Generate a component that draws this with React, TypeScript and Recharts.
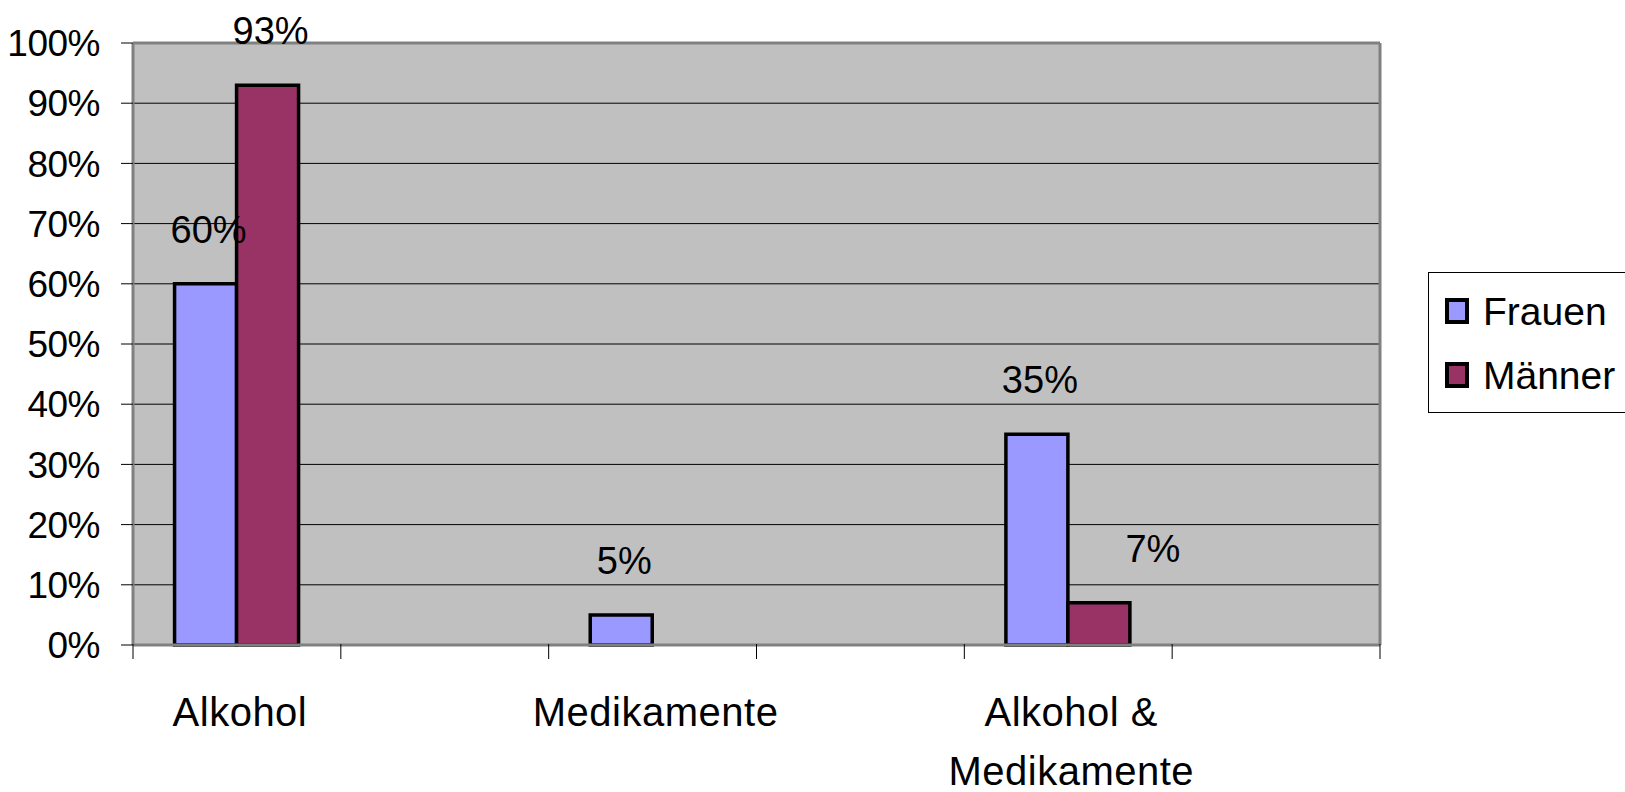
import React from 'react';
import {
  BarChart,
  Bar,
  XAxis,
  YAxis,
  CartesianGrid,
  Legend,
  LabelList,
} from 'recharts';

// Substance categories; blank entries keep the empty slots between groups.
const categories = ['Alkohol', '', 'Medikamente', '', 'Alkohol & Medikamente', ''];
// Share of women / men per category, in percent.
const frauen: (number | null)[] = [60, null, 5, null, 35, null];
const maenner: (number | null)[] = [93, null, null, null, 7, null];
const yTicks = [0, 10, 20, 30, 40, 50, 60, 70, 80, 90, 100];

const data = categories.map((name, i) => ({
  name,
  Frauen: frauen[i],
  'Männer': maenner[i],
}));

const FONT = '"Liberation Sans", Arial, Helvetica, sans-serif';
const BORDER = { stroke: '#808080', strokeWidth: 3 };

// Category label plus tick marks on the slot boundaries (Excel style).
const CategoryTick = (props: any) => {
  const { x, y, payload, index, visibleTicksCount, width } = props;
  const half =
    typeof payload?.offset === 'number' && payload.offset > 0
      ? payload.offset
      : width / visibleTicksCount / 2;
  const label: string = payload.value ?? '';
  const lines = label ? label.split(/(?<=&)\s+/) : [];
  const isLast = index === visibleTicksCount - 1;
  return (
    <g>
      <line x1={x - half} x2={x - half} y1={y - 1} y2={y + 14} stroke="#000" strokeWidth={1} />
      {isLast && (
        <line x1={x + half} x2={x + half} y1={y - 1} y2={y + 14} stroke="#000" strokeWidth={1} />
      )}
      {lines.map((line, i) => (
        <text
          key={i}
          x={x + 3}
          y={y + 67 + i * 59}
          textAnchor="middle"
          dominantBaseline="central"
          fontSize={40}
          fontFamily={FONT}
          letterSpacing={0.5}
          fill="#000"
        >
          {line}
        </text>
      ))}
    </g>
  );
};

const makeValueLabel = (series: (number | null)[], dxByCategory: Record<string, number>) => (props: any) => {
  const { x, y, width, value } = props;
  const idx = categories.indexOf(value);
  const v = idx >= 0 ? series[idx] : null;
  if (v == null || v === 0) return null;
  const dx = dxByCategory[value] ?? 3;
  return (
    <text
      x={x + width / 2 + dx}
      y={y - 54}
      textAnchor="middle"
      dominantBaseline="central"
      fontSize={38}
      fontFamily={FONT}
      fill="#000"
    >
      {`${v}%`}
    </text>
  );
};

const frauenLabel = makeValueLabel(frauen, {});
const maennerLabel = makeValueLabel(maenner, { 'Alkohol & Medikamente': 54 });

const LegendBox = (props: any) => {
  const { payload = [] } = props;
  return (
    <div
      style={{
        width: 220,
        height: 141,
        boxSizing: 'border-box',
        border: '1px solid #000',
        background: '#fff',
        paddingTop: 6,
        paddingLeft: 16,
        fontFamily: FONT,
      }}
    >
      {payload.map((item: any) => (
        <div
          key={item.value}
          style={{ display: 'flex', alignItems: 'center', height: 64 }}
        >
          <span
            style={{
              display: 'inline-block',
              width: 24,
              height: 26,
              boxSizing: 'border-box',
              border: '4px solid #000',
              background: item.color,
              marginRight: 14,
            }}
          />
          <span style={{ fontSize: 39, color: '#000', lineHeight: 1 }}>{item.value}</span>
        </div>
      ))}
    </div>
  );
};

export default function App() {
  return (
    <div
      style={{
        position: 'absolute',
        left: 0,
        top: 0,
        width: 1625,
        height: 792,
        overflow: 'hidden',
        background: '#fff',
      }}
    >
      <BarChart
        width={1625}
        height={792}
        data={data}
        margin={{ top: 42, right: 244, bottom: 146, left: 0 }}
        barCategoryGap="20%"
        barGap={0}
      >
        <CartesianGrid
          xAxisId="cat"
          vertical={false}
          stroke="#000"
          strokeWidth={1}
          fill="#c0c0c0"
          fillOpacity={1}
        />
        <XAxis
          xAxisId="cat"
          dataKey="name"
          tickLine={false}
          tickSize={0}
          tickMargin={0}
          axisLine={BORDER}
          height={1}
          interval={0}
          tick={<CategoryTick />}
        />
        <XAxis
          xAxisId="top"
          orientation="top"
          dataKey="name"
          tick={false}
          tickLine={false}
          axisLine={BORDER}
          height={1}
        />
        <YAxis
          width={133}
          domain={[0, 100]}
          ticks={yTicks}
          tickFormatter={(v: number) => `${v}%`}
          tickSize={12}
          tickMargin={21}
          tickLine={{ stroke: '#000', strokeWidth: 1 }}
          axisLine={BORDER}
          tick={{ fill: '#000', fontSize: 37, fontFamily: FONT, letterSpacing: -0.5 }}
          interval={0}
        />
        <YAxis
          yAxisId="right"
          orientation="right"
          width={1}
          domain={[0, 100]}
          tick={false}
          tickLine={false}
          axisLine={BORDER}
        />
        <Legend
          layout="vertical"
          align="center"
          verticalAlign="middle"
          content={<LegendBox />}
          wrapperStyle={{ left: 1428, top: 272, right: 'auto', width: 220, height: 141 }}
        />
        <Bar
          xAxisId="cat"
          dataKey="Frauen"
          fill="#9999ff"
          stroke="#000"
          strokeWidth={3.5}
          isAnimationActive={false}
        >
          <LabelList dataKey="name" content={frauenLabel} />
        </Bar>
        <Bar
          xAxisId="cat"
          dataKey="Männer"
          fill="#993366"
          stroke="#000"
          strokeWidth={3.5}
          isAnimationActive={false}
        >
          <LabelList dataKey="name" content={maennerLabel} />
        </Bar>
      </BarChart>
    </div>
  );
}
